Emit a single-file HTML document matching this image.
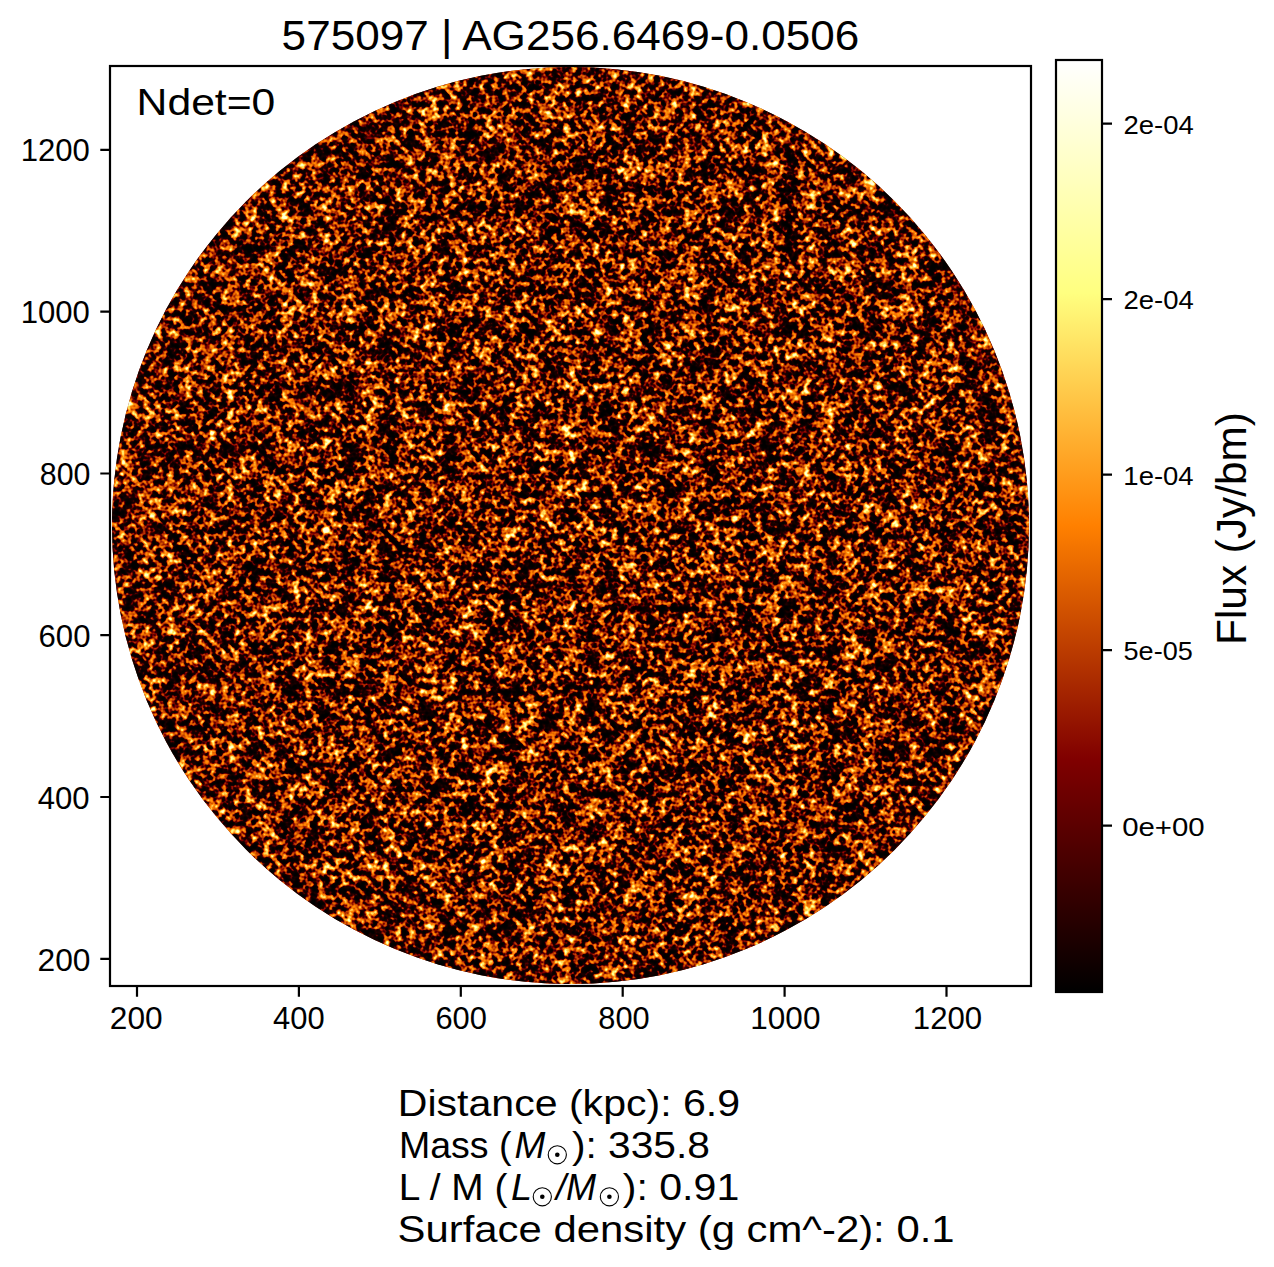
<!DOCTYPE html>
<html><head><meta charset="utf-8"><title>575097 | AG256.6469-0.0506</title><style>
html,body{margin:0;padding:0;background:#fff;width:1274px;height:1267px;overflow:hidden}
svg{display:block}
text{font-family:"Liberation Sans",sans-serif;fill:#000}
</style></head><body>
<svg width="1274" height="1267" viewBox="0 0 1274 1267">
<defs>
<filter id="nz" x="110.0" y="65.0" width="921.0" height="921.0" filterUnits="userSpaceOnUse" color-interpolation-filters="sRGB">
<feTurbulence type="fractalNoise" baseFrequency="0.16666667" numOctaves="2" seed="7" result="t1"/>
<feColorMatrix in="t1" type="matrix" values="1 0 0 0 0  1 0 0 0 0  1 0 0 0 0  0 0 0 0 1" result="a"/>
<feTurbulence type="fractalNoise" baseFrequency="0.05" numOctaves="2" seed="11" result="t2"/>
<feColorMatrix in="t2" type="matrix" values="0 1 0 0 0  0 1 0 0 0  0 1 0 0 0  0 0 0 0 1" result="b"/>
<feComposite in="a" in2="b" operator="arithmetic" k1="0" k2="0.68" k3="0.32" k4="0"/>
<feComponentTransfer>
<feFuncR type="table" tableValues="0 0 0 0 0 0 0 0 0 0 0 0 0 0 0 0 0 0 0 0 0 0 0 0 0 0 0 0 0 0 0 0.001 0.001 0.001 0.001 0.002 0.002 0.003 0.003 0.004 0.005 0.006 0.008 0.01 0.012 0.014 0.017 0.021 0.025 0.029 0.034 0.04 0.046 0.053 0.06 0.068 0.077 0.086 0.096 0.106 0.117 0.166 0.233 0.301 0.369 0.438 0.505 0.572 0.624 0.673 0.719 0.764 0.806 0.845 0.882 0.916 0.947 0.975 1 1 1 1 1 1 1 1 1 1 1 1 1 1 1 1 1 1 1 1 1 1 1 1 1 1 1 1 1 1 1 1 1 1 1 1 1 1 1 1 1 1 1 1 1 1 1 1 1 1 1"/>
<feFuncG type="table" tableValues="0 0 0 0 0 0 0 0 0 0 0 0 0 0 0 0 0 0 0 0 0 0 0 0 0 0 0 0 0 0 0 0 0 0 0 0 0 0 0 0 0 0 0 0 0 0 0 0 0 0 0 0 0 0 0 0 0 0 0 0 0 0 0 0 0 0 0.005 0.072 0.124 0.173 0.219 0.264 0.306 0.345 0.382 0.416 0.447 0.475 0.501 0.523 0.544 0.566 0.639 0.701 0.755 0.801 0.84 0.872 0.899 0.922 0.94 1 1 1 1 1 1 1 1 1 1 1 1 1 1 1 1 1 1 1 1 1 1 1 1 1 1 1 1 1 1 1 1 1 1 1 1 1 1"/>
<feFuncB type="table" tableValues="0 0 0 0 0 0 0 0 0 0 0 0 0 0 0 0 0 0 0 0 0 0 0 0 0 0 0 0 0 0 0 0 0 0 0 0 0 0 0 0 0 0 0 0 0 0 0 0 0 0 0 0 0 0 0 0 0 0 0 0 0 0 0 0 0 0 0 0 0 0 0 0 0 0 0 0 0 0 0.001 0.023 0.044 0.066 0.139 0.201 0.255 0.301 0.34 0.372 0.399 0.422 0.44 0.539 0.619 0.683 0.733 0.773 0.804 0.828 0.846 0.86 0.871 0.879 0.885 0.889 0.892 0.894 0.896 0.897 0.898 0.899 0.899 0.899 0.9 0.9 0.9 0.9 0.9 0.9 0.9 0.9 0.9 0.9 0.9 0.9 0.9 0.9 0.9 0.9 0.9"/>
</feComponentTransfer>
</filter>
<clipPath id="cc"><circle cx="570.5" cy="525.5" r="458.5"/></clipPath>
<linearGradient id="cm" x1="0" y1="1" x2="0" y2="0">
<stop offset="0" stop-color="#000"/><stop offset="0.25" stop-color="#800000"/><stop offset="0.5" stop-color="#ff8000"/><stop offset="0.75" stop-color="#ffff80"/><stop offset="1" stop-color="#fff"/>
</linearGradient>
</defs>
<circle cx="570.5" cy="525.5" r="458.5" fill="#6e2404"/>
<g clip-path="url(#cc)"><rect x="110.0" y="65.0" width="921.0" height="921.0" filter="url(#nz)"/></g>
<rect x="110" y="66" width="921" height="920" fill="none" stroke="#000" stroke-width="2.2"/>
<rect x="1056" y="60" width="46" height="932" fill="url(#cm)" stroke="#000" stroke-width="2.2"/>
<path d="M100.3 149.9H110 M100.3 311.7H110 M100.3 473.5H110 M100.3 635.2H110 M100.3 797.0H110 M100.3 958.8H110 M137.0 987V996.7 M298.9 987V996.7 M460.8 987V996.7 M622.7 987V996.7 M784.6 987V996.7 M946.5 987V996.7 M1103 123.6H1112 M1103 299.1H1112 M1103 474.6H1112 M1103 650.1H1112 M1103 825.6H1112" stroke="#000" stroke-width="2.2" fill="none"/>
<text x="281.62" y="50.3" font-size="42.44" textLength="577.68" lengthAdjust="spacingAndGlyphs">575097 | AG256.6469-0.0506</text>
<text x="136.61" y="115" font-size="37.79" textLength="138.72" lengthAdjust="spacingAndGlyphs">Ndet=0</text>
<text x="20.76" y="160.9" font-size="30.52" textLength="69.14" lengthAdjust="spacingAndGlyphs">1200</text>
<text x="20.76" y="322.8" font-size="30.52" textLength="69.14" lengthAdjust="spacingAndGlyphs">1000</text>
<text x="39.81" y="484.5" font-size="30.52" textLength="50.61" lengthAdjust="spacingAndGlyphs">800</text>
<text x="38.56" y="646.5" font-size="30.52" textLength="51.88" lengthAdjust="spacingAndGlyphs">600</text>
<text x="37.78" y="808.6" font-size="30.52" textLength="51.86" lengthAdjust="spacingAndGlyphs">400</text>
<text x="37.52" y="970.8" font-size="30.52" textLength="52.94" lengthAdjust="spacingAndGlyphs">200</text>
<text x="109.83" y="1029" font-size="30.52" textLength="52.83" lengthAdjust="spacingAndGlyphs">200</text>
<text x="273.09" y="1029" font-size="30.52" textLength="51.55" lengthAdjust="spacingAndGlyphs">400</text>
<text x="435.48" y="1029" font-size="30.52" textLength="51.45" lengthAdjust="spacingAndGlyphs">600</text>
<text x="598.39" y="1029" font-size="30.52" textLength="51.34" lengthAdjust="spacingAndGlyphs">800</text>
<text x="750.34" y="1029" font-size="30.52" textLength="70.08" lengthAdjust="spacingAndGlyphs">1000</text>
<text x="912.86" y="1029" font-size="30.52" textLength="69.25" lengthAdjust="spacingAndGlyphs">1200</text>
<text x="1123.53" y="133.8" font-size="25.73" textLength="70.3" lengthAdjust="spacingAndGlyphs">2e-04</text>
<text x="1123.53" y="309.3" font-size="25.73" textLength="70.3" lengthAdjust="spacingAndGlyphs">2e-04</text>
<text x="1123.36" y="484.8" font-size="25.73" textLength="70.27" lengthAdjust="spacingAndGlyphs">1e-04</text>
<text x="1123.55" y="660.3" font-size="25.73" textLength="69.28" lengthAdjust="spacingAndGlyphs">5e-05</text>
<text x="1122.16" y="835.8" font-size="25.73" textLength="82.55" lengthAdjust="spacingAndGlyphs">0e+00</text>
<text transform="translate(1246 644.92) rotate(-90)" x="0" y="0" font-size="43.17" textLength="232.84" lengthAdjust="spacingAndGlyphs">Flux (Jy/bm)</text>
<text x="397.74" y="1116.2" font-size="37.79" textLength="342.4" lengthAdjust="spacingAndGlyphs">Distance (kpc): 6.9</text>
<text x="398.92" y="1158" font-size="37.79" textLength="112.62" lengthAdjust="spacingAndGlyphs">Mass (</text>
<text x="514.62" y="1158" font-size="37.79" textLength="30.85" lengthAdjust="spacingAndGlyphs" font-style="italic">M</text>
<text x="571.92" y="1158" font-size="37.79" textLength="138.07" lengthAdjust="spacingAndGlyphs">): 335.8</text>
<text x="398.81" y="1200.2" font-size="37.79" textLength="108.66" lengthAdjust="spacingAndGlyphs">L / M (</text>
<text x="511.0" y="1200.2" font-size="37.79" textLength="21.02" lengthAdjust="spacingAndGlyphs" font-style="italic">L</text>
<text x="555.91" y="1200.2" font-size="37.79" textLength="40.08" lengthAdjust="spacingAndGlyphs" font-style="italic">/M</text>
<text x="622.71" y="1200.2" font-size="37.79" textLength="116.58" lengthAdjust="spacingAndGlyphs">): 0.91</text>
<text x="397.58" y="1241.5" font-size="37.79" textLength="556.99" lengthAdjust="spacingAndGlyphs">Surface density (g cm^-2): 0.1</text>
<circle cx="557.3" cy="1154.8" r="9.1" fill="none" stroke="#000" stroke-width="1.1"/><circle cx="557.3" cy="1154.8" r="2.3"/><circle cx="542.3" cy="1196.8" r="9.1" fill="none" stroke="#000" stroke-width="1.1"/><circle cx="542.3" cy="1196.8" r="2.3"/><circle cx="609.4" cy="1196.8" r="9.1" fill="none" stroke="#000" stroke-width="1.1"/><circle cx="609.4" cy="1196.8" r="2.3"/>
</svg>
</body></html>
